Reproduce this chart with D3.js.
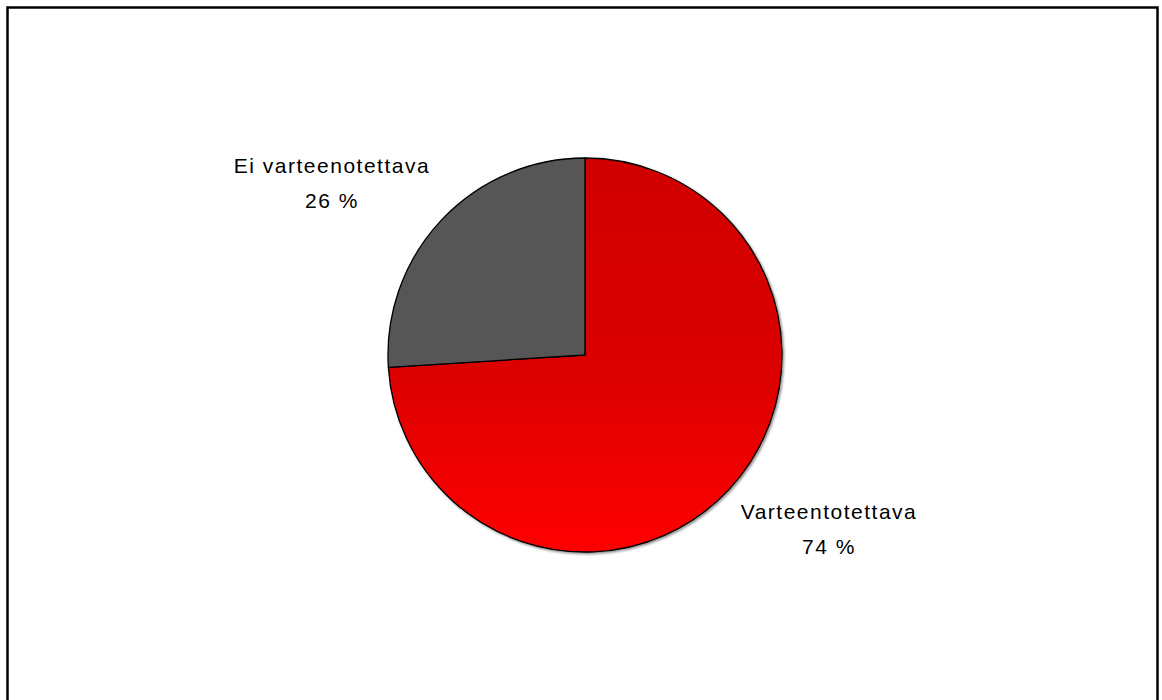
<!DOCTYPE html>
<html>
<head>
<meta charset="utf-8">
<script src="https://cdn.jsdelivr.net/npm/d3@7"></script>
<style>
  html, body { margin: 0; padding: 0; background: #fff; }
  svg { display: block; }
</style>
</head>
<body>
<svg id="chart" width="1162" height="700"></svg>
<script>
// Slice data, in drawing order (clockwise from 12 o'clock)
const categories = ["Varteentotettava", "Ei varteenotettava"];
const values = [74, 26];
const valueLabels = ["74 %", "26 %"];

const W = 1162, H = 700;
const cx = 585, cy = 355, r = 197;

const svg = d3.select("#chart");

// Chart area frame
svg.append("rect")
  .attr("x", 7.5).attr("y", 7.5)
  .attr("width", 1150).attr("height", 700)
  .attr("fill", "#fff")
  .attr("stroke", "#000")
  .attr("stroke-width", 2.5);

const defs = svg.append("defs");
// Vertical shading for the red slice (coordinates local to the pie group)
const grad = defs.append("linearGradient")
  .attr("id", "redFill")
  .attr("gradientUnits", "userSpaceOnUse")
  .attr("x1", 0).attr("y1", -r)
  .attr("x2", 0).attr("y2", r);
grad.append("stop").attr("offset", "0%").attr("stop-color", "#d00000");
grad.append("stop").attr("offset", "55%").attr("stop-color", "#dc0000");
grad.append("stop").attr("offset", "100%").attr("stop-color", "#ff0000");

const shadow = defs.append("filter").attr("id", "shade")
  .attr("x", "-10%").attr("y", "-10%").attr("width", "120%").attr("height", "120%");
shadow.append("feDropShadow")
  .attr("dx", 1.5).attr("dy", 1.5).attr("stdDeviation", 0.8)
  .attr("flood-color", "#000").attr("flood-opacity", 0.45);

const color = d3.scaleOrdinal()
  .domain(categories)
  .range(["url(#redFill)", "#575757"]);

const pie = d3.pie().sort(null).value(d => d.value);
const arcs = pie(categories.map((c, i) => ({ name: c, value: values[i], label: valueLabels[i] })));
const arc = d3.arc().innerRadius(0).outerRadius(r);

const g = svg.append("g").attr("transform", `translate(${cx},${cy})`);

g.append("g").attr("filter", "url(#shade)")
  .selectAll("path")
  .data(arcs)
  .join("path")
  .attr("d", arc)
  .attr("fill", d => color(d.data.name))
  .attr("stroke", "#000")
  .attr("stroke-width", 1.3)
  .attr("stroke-linejoin", "round");

// Outside labels: category name above value
const labelPos = {
  "Varteentotettava": [829, 519],
  "Ei varteenotettava": [332, 173]
};

const labels = svg.append("g")
  .attr("font-family", "'Liberation Sans', Arial, sans-serif")
  .attr("font-size", 21)
  .attr("fill", "#000")
  .attr("text-anchor", "middle");

arcs.forEach(d => {
  const [x, y] = labelPos[d.data.name];
  const t = labels.append("text")
    .attr("x", x).attr("y", y)
    .attr("letter-spacing", 1.5);
  t.append("tspan").attr("x", x).attr("dy", 0).text(d.data.name);
  t.append("tspan").attr("x", x).attr("dy", 35).text(d.data.label);
});
</script>
</body>
</html>
